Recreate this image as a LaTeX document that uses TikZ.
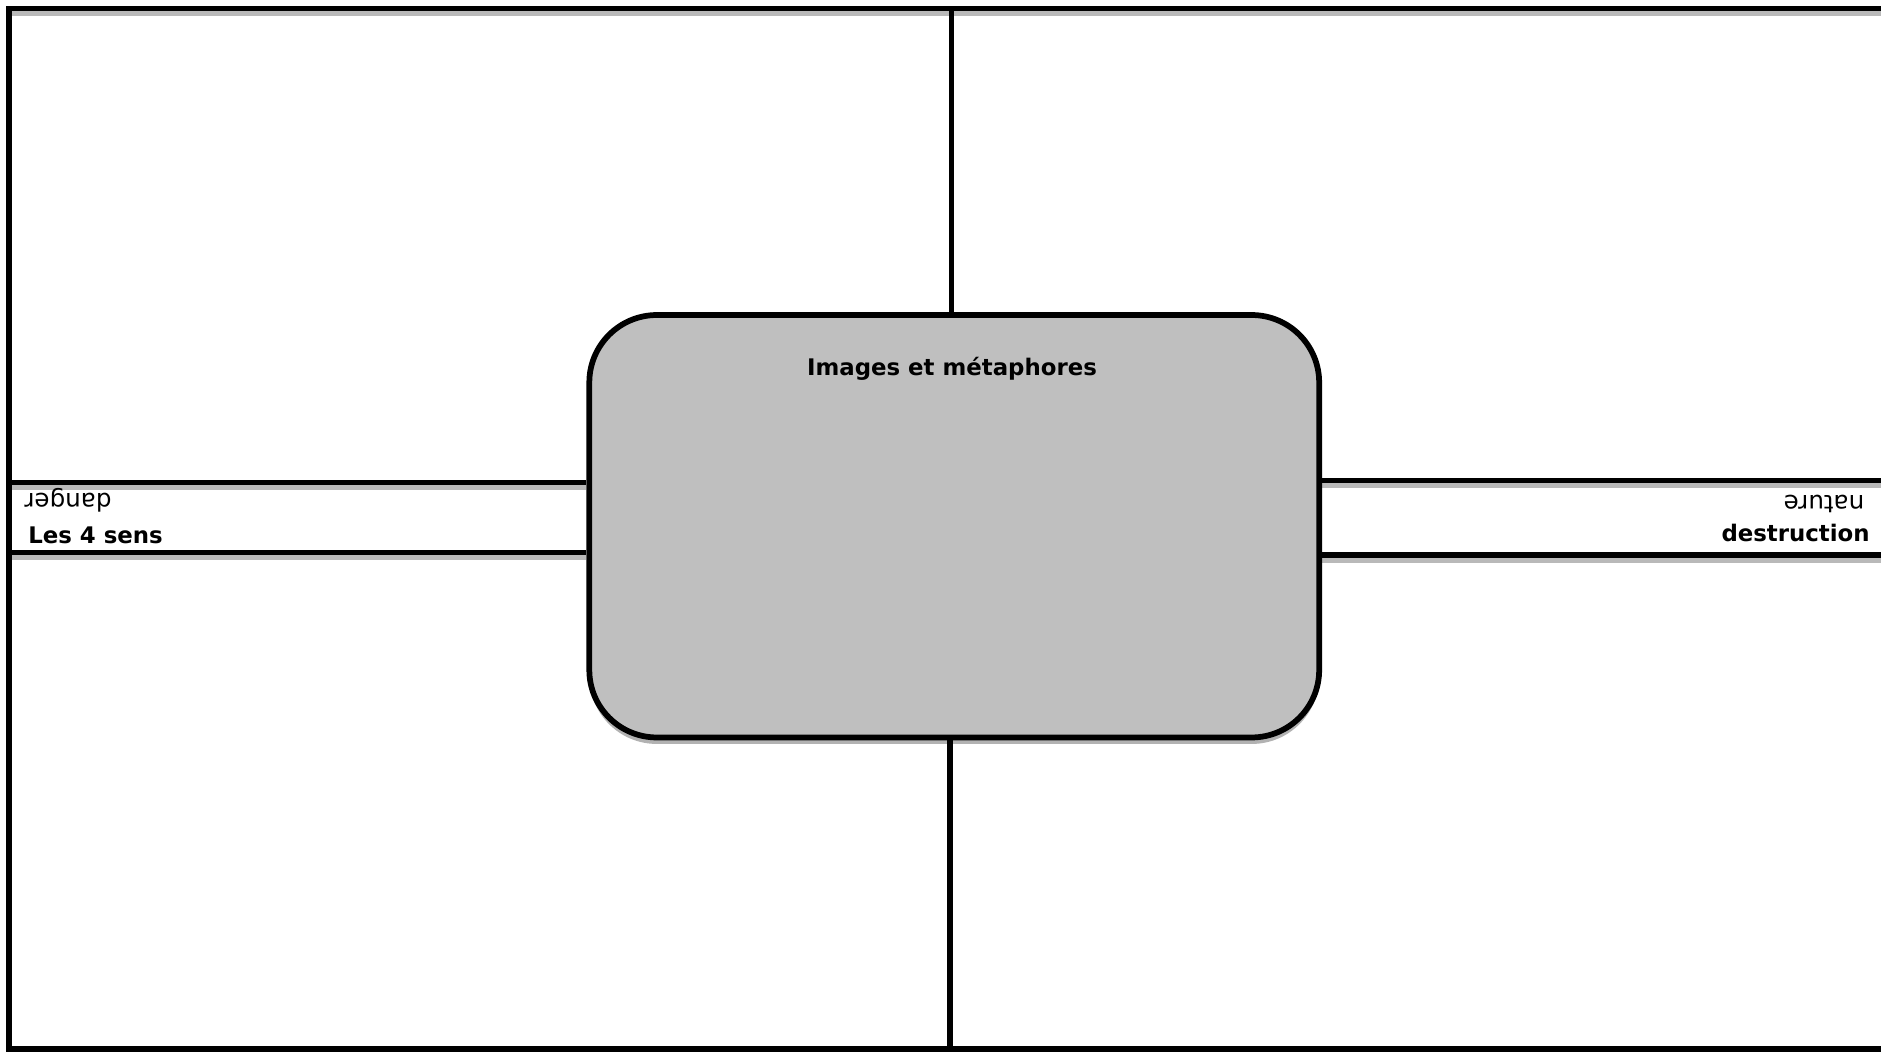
\documentclass[tikz,border=0pt]{standalone}
\usepackage{fontspec}
\setmainfont{DejaVu Sans}
\usetikzlibrary{calc, positioning, shadows, backgrounds}

\begin{document}
\begin{tikzpicture}[x=0.02cm, y=-0.02cm,
    rule/.style={line width=0.115cm},
    shadowline/.style={line width=0.1cm, gray!55},
    sens/.style={font=\fontsize{13}{15}\selectfont\bfseries, inner sep=0pt},
    mot/.style={font=\fontsize{14}{16}\selectfont, inner sep=0pt, rotate=180}]
    \useasboundingbox (0,0) rectangle (1881,1053);
    \clip (0,0) rectangle (1881,1053);

    \coordinate (tl) at (9,8.5);
    \coordinate (tr) at (1900,8.5);
    \coordinate (bl) at (9,1049);
    \coordinate (br) at (1900,1049);
    \coordinate (midtop) at (951.5,8.5);
    \coordinate (midbot) at (950,1049);
    \coordinate (lt) at (9,482.5);
    \coordinate (lb) at (9,552.5);
    \coordinate (rt) at (1900,480.5);
    \coordinate (rb) at (1900,555);

    \node[draw, rule, fill=gray!50, rounded corners=1.35cm, minimum width=14.6cm, minimum height=8.45cm,
        drop shadow={shadow xshift=0cm, shadow yshift=-0.13cm, opacity=1, fill=gray!60}] (box) at (954.25,526.25) {};
    \node[sens, anchor=base] (titre) at (952,376) {Images et métaphores};

    \node[mot] (danger) at (68,500) {danger};
    \node[sens, anchor=base west] (quatre) at (28,544) {Les 4 sens};
    \node[mot] (nature) at (1824,504) {nature};
    \node[sens, anchor=base east] (destr) at (1870,542) {destruction};

    \draw[rule] (midbot |- box.south) -- (midbot);

    \begin{scope}[on background layer]
        \fill[white] (0,0) rectangle (1881,1053);
        \draw[shadowline] ($(tl)+(2.5,5.5)$) -- ($(tr)+(0,5.5)$);
        \draw[shadowline] ($(lt)+(2.5,5.5)$) -- ($(lt -| box.west)+(0,5.5)$);
        \draw[shadowline] ($(lb)+(2.5,5.5)$) -- ($(lb -| box.west)+(0,5.5)$);
        \draw[shadowline] ($(rt -| box.east)+(0,5.5)$) -- ($(rt)+(0,5.5)$);
        \draw[shadowline] ($(rb -| box.east)+(0,5.5)$) -- ($(rb)+(0,5.5)$);
        \draw[rule] (tr) -- (tl) -- (bl) -- (br);
        \draw[rule] (lt) -- (lt -| box.west);
        \draw[rule] (lb) -- (lb -| box.west);
        \draw[rule] (rt) -- (rt -| box.east);
        \draw[rule] (rb) -- (rb -| box.east);
        \draw[rule] (midtop) -- (midtop |- box.north);
    \end{scope}
\end{tikzpicture}
\end{document}
